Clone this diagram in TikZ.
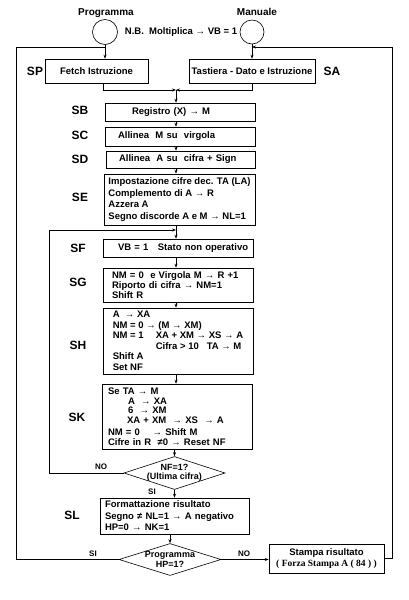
\documentclass[tikz,border=0pt]{standalone}
\usepackage{fontspec}
\setmainfont{Liberation Sans}
\newfontfamily\serifbf{Liberation Serif}
\usetikzlibrary{arrows.meta,shapes.geometric}
\tikzset{
  >={Stealth[length=4pt,width=3pt]},
  stato/.style={draw, rectangle, inner xsep=4pt, inner ysep=0pt, align=left,
    font=\fontsize{9.5}{10.5}\selectfont\bfseries},
  rombo/.style={draw, diamond, aspect=3, inner sep=-4pt, align=center,
    font=\fontsize{9}{9.5}\selectfont\bfseries},
  sigla/.style={font=\fontsize{12}{14}\selectfont\bfseries},
  ramo/.style={font=\fontsize{8}{9}\selectfont\bfseries},
}
\begin{document}
\begin{tikzpicture}[x=1pt, y=-1pt, line width=0.6pt]
      \useasboundingbox (0,0) rectangle (408,600);
      % INGRESSI
      \node[font=\fontsize{10}{12}\selectfont\bfseries] (tprog) at (106,13) {Programma};
      \node[font=\fontsize{10}{12}\selectfont\bfseries] (tman) at (257,12) {Manuale};
      \node[draw, circle, minimum size=25pt, inner sep=0pt] (cprog) at (105,32) {};
      \node[draw, circle, minimum size=24pt, inner sep=0pt] (cman) at (252,32) {};
      \node[font=\fontsize{9.5}{11}\selectfont\bfseries] (nb) at (181,32) {N.B.~~Moltiplica → VB = 1};
      % STATI
      \node[stato, align=center, inner xsep=0pt, minimum width=103pt, minimum height=24pt] (sp) at (96.5,71) {Fetch Istruzione};
      \node[stato, align=center, inner xsep=0pt, minimum width=126pt, minimum height=24pt] (sa) at (252,71) {Tastiera - Dato e Istruzione};
      \node[stato, text width=142pt, minimum height=18pt] (sb) at (180,112) {\hspace*{23pt}Registro (X) → M};
      \node[stato, text width=142pt, minimum height=19pt] (sc) at (180,136.5) {\hspace*{9pt}Allinea~ M su~ virgola};
      \node[stato, text width=141pt, minimum height=17pt] (sd) at (180.5,159.5) {\hspace*{9pt}Allinea~ A su~ cifra + Sign};
      \node[stato, inner xsep=0pt, minimum width=151pt, minimum height=51pt, font=\fontsize{9.5}{11.5}\selectfont\bfseries] (se) at (179.5,199.5)
        {Impostazione cifre dec. TA (LA)\\Complemento di A → R\\Azzera A\\Segno discorde A e M → NL=1};
      \node[stato, text width=142pt, minimum height=18pt] (sf) at (178,248) {\hspace*{11pt}VB = 1~~~Stato non operativo};
      \node[stato, inner xsep=9pt, text width=132pt, minimum height=34pt, font=\fontsize{9.5}{8.5}\selectfont\bfseries] (sg) at (178,285)
        {NM = 0~ e Virgola M → R +1\\Riporto di cifra → NM=1\\Shift R};
      \node[stato, inner xsep=0pt, minimum width=150pt, minimum height=66pt] (sh) at (178,341)
        {A~ → XA\\NM = 0 → (M → XM)\\\makebox[43pt][l]{NM = 1}XA + XM → XS → A\\\hspace*{43pt}Cifra > 10~~~TA → M\\Shift A\\Set NF};
      \node[stato, inner xsep=6pt, text width=138pt, minimum height=65pt, font=\fontsize{9.5}{9.5}\selectfont\bfseries] (sk) at (177,416.5)
        {Se TA → M\\\hspace*{20pt}A~ → XA\\\hspace*{20pt}6~ → XM\\\hspace*{19pt}XA + XM~ → XS~ → A\\[3pt]NM = 0~~~ → Shift M\\Cifre in R~~≠0 → Reset NF};
      \node[rombo, minimum width=101pt, minimum height=33pt] (nf) at (174.5,473) {NF=1?\\(Ultima cifra)};
      \node[stato, inner xsep=5pt, text width=139pt, minimum height=36pt, font=\fontsize{9.5}{11.5}\selectfont\bfseries] (sl) at (174.5,516)
        {Formattazione risultato\\Segno ≠ NL=1 → A negativo\\HP=0 → NK=1};
      \node[rombo, minimum width=102pt, minimum height=32pt] (prog) at (170,559.5) {Programma\\HP=1?};
      \node[stato, align=center, minimum width=115pt, minimum height=29pt, font=\fontsize{9.5}{11}\selectfont\bfseries] (stampa) at (326.5,558.5)
        {Stampa risultato\\{\serifbf ( Forza Stampa A ( 84 ) )}};
      % SIGLE
      \node[sigla] (lsp) at (35,71) {SP};
      \node[sigla] (lsa) at (332,71) {SA};
      \node[sigla] (lsb) at (80,110) {SB};
      \node[sigla] (lsc) at (80,135) {SC};
      \node[sigla] (lsd) at (80,159) {SD};
      \node[sigla] (lse) at (80,197) {SE};
      \node[sigla] (lsf) at (78,248) {SF};
      \node[sigla] (lsg) at (78,282) {SG};
      \node[sigla] (lsh) at (78,345) {SH};
      \node[sigla] (lsk) at (77,417) {SK};
      \node[sigla] (lsl) at (72,515) {SL};
      % PUNTI DI GIUNZIONE
      \coordinate (jm) at (176,90);
      \coordinate (jf) at (176,230);
      \coordinate (jp) at (105,47);
      \coordinate (ja) at (252,47);
      \coordinate (outL) at (16,47);
      \coordinate (outR) at (392,47);
      \coordinate (inL) at (49,230);
      % COLLEGAMENTI
      \draw[->] (cprog.south) -- (cprog.south |- sp.north);
      \draw[->] (cman.south) -- (cman.south |- sa.north);
      \draw[->] ([xshift=6.5pt]sp.south) |- (jm);
      \draw[->] (sa.south) |- (jm);
      \draw[->] (jm) -- (jm |- sb.north);
      \draw[->] (sb.south -| jm) -- (sc.north -| jm);
      \draw[->] (sc.south -| jm) -- (sd.north -| jm);
      \draw[->] (sd.south -| jm) -- (se.north -| jm);
      \draw (se.south -| jm) -- (jf);
      \draw[->] (jf) -- (sf.north -| jm);
      \draw[->] (sf.south -| jm) -- (sg.north -| jm);
      \draw[->] (sg.south -| jm) -- (sh.north -| jm);
      \draw[->] (sh.south -| jm) -- (sk.north -| jm);
      \draw[->] (sk.south -| nf.north) -- (nf.north);
      \draw[->] (nf.south) -- (nf.south |- sl.north);
      \draw[->] (sl.south -| prog.north) -- (prog.north);
      \draw[->] (prog.east) -- (prog.east -| stampa.west);
      % ANELLI
      \draw[->] (nf.west) -| (inL) -- (jf);
      \draw (prog.west) -| (outL) -- (jp);
      \draw[->] (stampa.east) -| (outR) -- (ja);
      % RAMI
      \node[ramo] (nfno) at (101,467) {NO};
      \node[ramo] (nfsi) at (152,492) {SI};
      \node[ramo] (prsi) at (93,554) {SI};
      \node[ramo] (prno) at (244,554) {NO};
    \end{tikzpicture}
\end{document}
